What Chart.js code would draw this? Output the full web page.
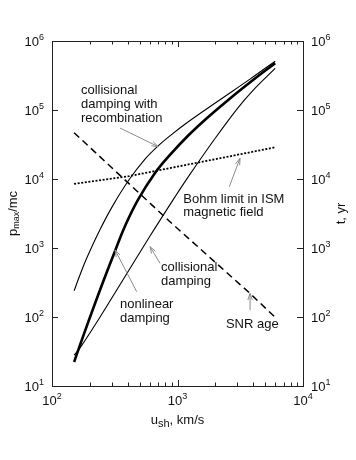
<!DOCTYPE html>
<html><head><meta charset="utf-8">
<script src="https://cdn.jsdelivr.net/npm/chart.js@4.4.1/dist/chart.umd.min.js"></script>
<style>html,body{margin:0;padding:0;background:#fff;}#wrap{width:356px;height:460px;}</style>
</head><body><div id="wrap"><canvas id="c" width="356" height="460"></canvas></div>
<script>
// ---- data (u_sh in km/s, p_max/mc, t in yr) ----
const recombU = [150, 167, 190, 241, 306, 411, 551, 687, 871, 1190, 2180, 3780, 6000];
const recombP = [240, 407, 728, 1840, 4150, 9750, 19400, 29200, 42200, 65300, 140600, 280000, 510000];
const nonlinU = [150, 167, 201, 255, 318, 382, 484, 662, 871, 1190, 1720, 2620, 4000, 6000];
const nonlinP = [22.3, 39, 100, 321, 906, 2080, 4970, 12200, 22300, 41000, 76700, 147000, 272000, 478000];
const collU = [150, 170, 241, 355, 604, 955, 1210, 1990, 3030, 4000, 6000];
const collP = [28, 37.2, 99.3, 311, 1490, 5510, 10570, 38600, 107600, 193000, 401000];
const bohmU = [150, 411, 2960, 6000];
const bohmP = [8500, 11000, 22300, 28800];
const snrU = [150, 871, 3780, 6000];
const snrT = [46900, 2400, 220, 99];
const xTickExps = [2, 3, 4];
const yTickExps = [1, 2, 3, 4, 5, 6];
const y2TickExps = [1, 2, 3, 4, 5, 6];

const pts = (xs, ys) => xs.map((x, i) => ({x: x, y: ys[i]}));

const FONT = '"Liberation Sans", Arial, Helvetica, sans-serif';

const notes = [
  {lines: ['collisional', 'damping with', 'recombination'], at: [170, 168700], lh: 14, from: [348, 54800], to: [703, 29400]},
  {lines: ['Bohm limit in ISM', 'magnetic field'], at: [1112, 4560], lh: 13.5, from: [2588, 7730], to: [3148, 19950]},
  {lines: ['collisional', 'damping'], at: [740, 464], lh: 13.5, from: [726, 600], to: [604, 1045]},
  {lines: ['nonlinear', 'damping'], at: [348, 133], lh: 13.5, from: [473, 233], to: [318, 935]},
  {lines: ['SNR age'], at: [2432, 69.3], lh: 13.5, from: [3785, 126], to: [3785, 220]}
];

function arrow(ctx, x1, y1, x2, y2) {
  ctx.beginPath(); ctx.moveTo(x1, y1); ctx.lineTo(x2, y2); ctx.stroke();
  const a = Math.atan2(y2 - y1, x2 - x1), L = 7, h = 0.32;
  ctx.beginPath();
  ctx.moveTo(x2 - L * Math.cos(a - h), y2 - L * Math.sin(a - h));
  ctx.lineTo(x2, y2);
  ctx.lineTo(x2 - L * Math.cos(a + h), y2 - L * Math.sin(a + h));
  ctx.stroke();
}

function pow10(ctx, x, yc, exp, align) {
  ctx.font = '13px ' + FONT;
  const wb = ctx.measureText('10').width;
  ctx.font = '9px ' + FONT;
  const we = ctx.measureText(String(exp)).width;
  let x0;
  if (align === 'right') x0 = x - wb - we;
  else if (align === 'left') x0 = x;
  else x0 = x - (wb + we) / 2;
  ctx.textAlign = 'left'; ctx.textBaseline = 'alphabetic';
  ctx.font = '13px ' + FONT;
  ctx.fillText('10', x0, yc + 4.7);
  ctx.font = '9px ' + FONT;
  ctx.fillText(String(exp), x0 + wb, yc - 0.6);
}

function drawParts(ctx, parts, cx, by) {
  let total = 0;
  parts.forEach(p => { ctx.font = p.size + 'px ' + FONT; p.w = ctx.measureText(p.t).width; total += p.w; });
  let x = cx - total / 2;
  ctx.textAlign = 'left'; ctx.textBaseline = 'alphabetic';
  parts.forEach(p => { ctx.font = p.size + 'px ' + FONT; ctx.fillText(p.t, x, by + (p.dy || 0)); x += p.w; });
}

const decor = {
  id: 'decor',
  afterDatasetsDraw(chart) {
    const ctx = chart.ctx, a = chart.chartArea;
    const xs = chart.scales.x, ys = chart.scales.y, y2 = chart.scales.y2;
    ctx.save();
    ctx.strokeStyle = '#222'; ctx.lineWidth = 1;
    ctx.strokeRect(Math.round(a.left) + 0.5, Math.round(a.top) + 0.5, Math.round(a.right - a.left), Math.round(a.bottom - a.top));
    ctx.beginPath();
    for (let e = 2; e <= 4; e++) {
      for (let m = 1; m <= 9; m++) {
        if (e === 4 && m > 1) break;
        const v = m * Math.pow(10, e);
        const px = Math.round(xs.getPixelForValue(v)) + 0.5;
        const len = m === 1 ? 6 : 3.5;
        ctx.moveTo(px, a.bottom); ctx.lineTo(px, a.bottom - len);
        ctx.moveTo(px, a.top); ctx.lineTo(px, a.top + len);
      }
    }
    yTickExps.forEach(e => {
      const py = Math.round(ys.getPixelForValue(Math.pow(10, e))) + 0.5;
      ctx.moveTo(a.left, py); ctx.lineTo(a.left + 6, py);
    });
    y2TickExps.forEach(e => {
      const py = Math.round(y2.getPixelForValue(Math.pow(10, e))) + 0.5;
      ctx.moveTo(a.right, py); ctx.lineTo(a.right - 6, py);
    });
    ctx.stroke();
    ctx.fillStyle = '#111';
    yTickExps.forEach(e => pow10(ctx, a.left - 8, ys.getPixelForValue(Math.pow(10, e)), e, 'right'));
    y2TickExps.forEach(e => pow10(ctx, a.right + 8, y2.getPixelForValue(Math.pow(10, e)), e, 'left'));
    xTickExps.forEach(e => pow10(ctx, xs.getPixelForValue(Math.pow(10, e)), a.bottom + 14, e, 'center'));
    drawParts(ctx, [{t: 'u', size: 13}, {t: 'sh', size: 11, dy: 3}, {t: ', km/s', size: 13}], (a.left + a.right) / 2, a.bottom + 38);
    ctx.save();
    ctx.translate(16.5, (a.top + a.bottom) / 2);
    ctx.rotate(-Math.PI / 2);
    drawParts(ctx, [{t: 'p', size: 13}, {t: 'max', size: 9, dy: 2}, {t: '/mc', size: 13}], 0, 0);
    ctx.restore();
    ctx.save();
    ctx.translate(a.right + 41.5, (a.top + a.bottom) / 2);
    ctx.rotate(-Math.PI / 2);
    drawParts(ctx, [{t: 't, yr', size: 13}], 0, 0);
    ctx.restore();
    notes.forEach(n => {
      const x = xs.getPixelForValue(n.at[0]), y = ys.getPixelForValue(n.at[1]);
      ctx.font = '13px ' + FONT; ctx.fillStyle = '#111';
      ctx.textAlign = 'left'; ctx.textBaseline = 'alphabetic';
      n.lines.forEach((s, i) => ctx.fillText(s, x, y + i * n.lh));
      ctx.strokeStyle = '#8a8a8a'; ctx.lineWidth = 1;
      arrow(ctx, xs.getPixelForValue(n.from[0]), ys.getPixelForValue(n.from[1]),
                 xs.getPixelForValue(n.to[0]), ys.getPixelForValue(n.to[1]));
    });
    ctx.restore();
  }
};

const curve = {pointRadius: 0, borderColor: '#000', fill: false, tension: 0.4};

new Chart(document.getElementById('c'), {
  type: 'line',
  data: {
    datasets: [
      Object.assign({label: 'collisional damping with recombination', data: pts(recombU, recombP), borderWidth: 1.1, yAxisID: 'y'}, curve),
      Object.assign({label: 'nonlinear damping', data: pts(nonlinU, nonlinP), borderWidth: 2.6, yAxisID: 'y'}, curve),
      Object.assign({label: 'collisional damping', data: pts(collU, collP), borderWidth: 1.1, yAxisID: 'y'}, curve),
      {label: 'Bohm limit in ISM magnetic field', data: pts(bohmU, bohmP), borderWidth: 1.8, borderDash: [2, 1.6], borderColor: '#000', pointRadius: 0, tension: 0, yAxisID: 'y'},
      {label: 'SNR age', data: pts(snrU, snrT), borderWidth: 1.5, borderDash: [7, 4.5], borderColor: '#000', pointRadius: 0, tension: 0, yAxisID: 'y2'}
    ]
  },
  options: {
    responsive: false, animation: false, devicePixelRatio: 1,
    layout: {padding: {left: 52, right: 53, top: 41, bottom: 74}},
    plugins: {legend: {display: false}, tooltip: {enabled: false}},
    scales: {
      x: {type: 'logarithmic', min: 100, max: 10000, display: false},
      y: {type: 'logarithmic', min: 10, max: 1000000, display: false},
      y2: {type: 'logarithmic', min: 10, max: 1000000, display: false, position: 'right'}
    }
  },
  plugins: [decor]
});
</script>
</body></html>
